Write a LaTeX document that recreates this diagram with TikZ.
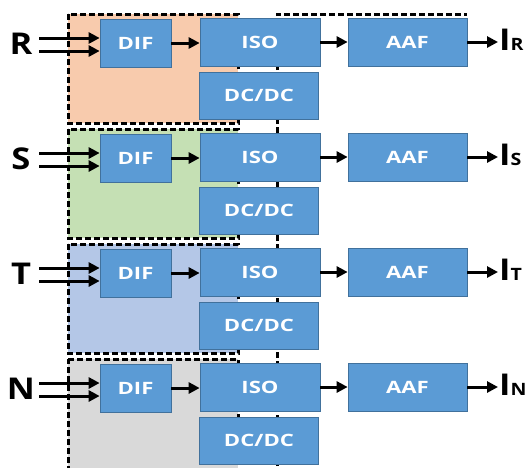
\documentclass[tikz,border=0pt]{standalone}
\usepackage{fontspec}
\setmainfont{Open Sans}
\newfontfamily\widefont[FakeStretch=1.3]{Open Sans}
\newfontfamily\labfont[FakeStretch=1.15]{Open Sans}
\usetikzlibrary{arrows.meta}
\definecolor{blk}{HTML}{5B9BD5}
\definecolor{blkline}{HTML}{41719C}
\definecolor{cR}{HTML}{F8CBAD}
\definecolor{cS}{HTML}{C5E0B4}
\definecolor{cT}{HTML}{B4C7E7}
\definecolor{cN}{HTML}{D9D9D9}
\tikzset{
  block/.style={draw=blkline, line width=0.7pt, fill=blk, text=white, inner sep=0pt,
    font=\widefont\fontsize{17}{17}\selectfont\bfseries},
  dashbox/.style={draw=black, line width=3pt, dash pattern=on 6pt off 3pt},
  arr/.style={line width=3pt, -{Triangle[length=11pt,width=11pt]}},
  bigl/.style={inner sep=0pt, font=\labfont\fontsize{30}{30}\selectfont\bfseries},
}
\begin{document}
\begin{tikzpicture}[x=1pt,y=-1pt]
\useasboundingbox (0,0) rectangle (529,467);
\fill[white] (0,0) rectangle (529,467);
% colored boxes
\foreach \i/\c in {0/cR,1/cS,2/cT}{
  \pgfmathsetmacro{\o}{\i*115}
  \draw[dashbox, fill=\c] (68,14+\o) rectangle (238,123+\o);
}
\draw[dashbox, fill=cN] (68,359) -- (238,359) -- (238,475) -- (68,475) -- cycle;
% right dashed frame
\coordinate (fa) at (277,475);
\coordinate (fb) at (277,14);
\coordinate (fc) at (467,14);
\draw[dashbox] (fa) -- (fb) -- (fc);
% rows
\foreach \i/\lab in {0/R,1/S,2/T,3/N}{
  \pgfmathsetmacro{\o}{\i*115}
  \node[block, minimum width=71pt, minimum height=48pt] (dif\i) at (135.5,43+\o) {DIF};
  \node[block, minimum width=120pt, minimum height=48pt] (iso\i) at (260,42+\o) {ISO};
  \node[block, minimum width=119pt, minimum height=47pt] (dc\i) at (259,95.5+\o) {DC/DC};
  \node[block, minimum width=119pt, minimum height=48pt] (aaf\i) at (407.5,42+\o) {AAF};
  \node[bigl, anchor=base] (lab\i) at (21,54+\o) {\lab};
  \node[inner sep=0pt, anchor=base west] (out\i) at (499,50+\o)
    {{\labfont\fontsize{30}{30}\selectfont\bfseries I}{\labfont\fontsize{17}{17}\selectfont\bfseries \lab}};
  \coordinate (ina\i) at (39,38+\o);
  \coordinate (inb\i) at (39,51+\o);
  \draw[arr] (ina\i) -- (ina\i -| dif\i.west);
  \draw[arr] (inb\i) -- (inb\i -| dif\i.west);
  \draw[arr] (dif\i.east) -- (dif\i.east -| iso\i.west);
  \draw[arr] (iso\i.east) -- (aaf\i.west);
  \draw[arr, shorten >=1pt] (aaf\i.east) -- (aaf\i.east -| out\i.west);
}
\end{tikzpicture}
\end{document}
